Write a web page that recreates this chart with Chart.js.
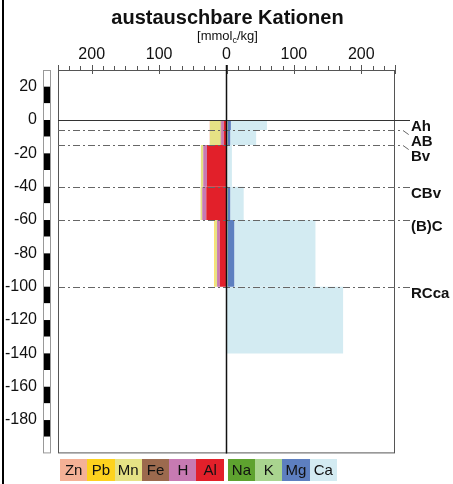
<!DOCTYPE html>
<html>
<head>
<meta charset="utf-8">
<script src="https://cdn.jsdelivr.net/npm/chart.js@4"></script>
<style>
  html, body { margin: 0; padding: 0; background: #fff; }
  #wrap { position: relative; width: 453px; height: 484px; }
  #edge { position: absolute; left: 2px; top: 0; width: 2px; height: 484px; background: #000; }
  #legend { position: absolute; left: 60px; top: 459px; display: flex; font: 15px "Liberation Sans", Arial, sans-serif; }
  #legend span { display: block; width: 27.3px; height: 22px; line-height: 22px; text-align: center; color: #111; }
  #legend .gap { width: 4px; background: none; }
</style>
</head>
<body>
<div id="wrap">
  <canvas id="chart" width="453" height="484"></canvas>
  <div id="edge"></div>
  <div id="legend"></div>
</div>
<script>
// cations, in legend order (left to right)
const cations = ['Zn', 'Pb', 'Mn', 'Fe', 'H', 'Al', 'Na', 'K', 'Mg', 'Ca'];
const cationColors = ['#f4b196', '#fdd21e', '#e6e285', '#9c6a4e', '#c77ab2', '#e2202a', '#5ea22f', '#a9d48f', '#5d7fc0', '#d3ebf2'];
// stacking order away from zero
const acidSide = ['Al', 'H', 'Fe', 'Mn', 'Pb', 'Zn'];  // drawn to the left
const baseSide = ['Na', 'K', 'Mg', 'Ca'];              // drawn to the right

// horizons and depths (cm)
const horizons = ['Ah', 'AB', 'Bv', 'CBv', '(B)C', 'RCca'];
const horizonTop = [0, -6, -15, -40, -60, -100];
const horizonBottom = [-6, -15, -40, -60, -100, -140];

// exchangeable cations per horizon [mmolc/kg]
const zn = [0.5, 0.5, 0, 0, 0, 0];
const pb = [1, 1, 0, 0, 1, 0];
const mn = [16, 16, 3.5, 2.5, 3, 0];
const fe = [0.5, 0.5, 0, 0, 0, 0];
const h  = [4, 4, 5.5, 6, 4, 0];
const al = [4, 4, 29, 30, 10, 0];
const na = [0.5, 0.5, 0.5, 0.5, 0.5, 0];
const k  = [1, 1, 0.5, 1, 1, 0];
const mg = [5, 4, 1, 4, 10, 0];
const ca = [53.5, 38.5, 6, 20, 120.5, 173];

const xTicks = [-200, -100, 0, 100, 200];
const yTicks = [20, 0, -20, -40, -60, -80, -100, -120, -140, -160, -180];

const values = { Zn: zn, Pb: pb, Mn: mn, Fe: fe, H: h, Al: al, Na: na, K: k, Mg: mg, Ca: ca };
const colorOf = {};
cations.forEach((c, i) => colorOf[c] = cationColors[i]);

// one filled rectangle per cation and horizon
const datasets = [];
horizons.forEach((hz, i) => {
  [[acidSide, -1], [baseSide, 1]].forEach(([side, sign]) => {
    let cum = 0;
    side.forEach(c => {
      const v = values[c][i];
      if (v <= 0) return;
      const x0 = sign * cum, x1 = sign * (cum + v);
      datasets.push({
        label: c,
        data: [
          { x: x0, y: horizonTop[i] }, { x: x1, y: horizonTop[i] },
          { x: x1, y: horizonBottom[i] }, { x: x0, y: horizonBottom[i] }
        ],
        showLine: true,
        fill: 'shape',
        backgroundColor: colorOf[c],
        borderWidth: 0,
        pointRadius: 0
      });
      cum += v;
    });
  });
});

const FONT = '"Liberation Sans", Arial, sans-serif';

const decor = {
  id: 'decor',
  beforeDatasetsDraw(chart) {
    const { ctx, chartArea: a, scales: { y } } = chart;
    // depth ruler
    const rx = a.left - 15, rw = 7;
    ctx.save();
    for (let v = 30; v > -200; v -= 10) {
      const lo = v - 10;
      const y0 = y.getPixelForValue(v), y1 = y.getPixelForValue(lo);
      ctx.fillStyle = Math.abs(lo / 10) % 2 === 1 ? '#000' : '#fff';
      ctx.fillRect(rx, y0, rw, y1 - y0);
    }
    ctx.strokeStyle = '#999';
    ctx.lineWidth = 1;
    ctx.strokeRect(rx + 0.5, y.getPixelForValue(30) + 0.5, rw, y.getPixelForValue(-200) - y.getPixelForValue(30) - 1);
    ctx.restore();
  },
  afterDatasetsDraw(chart) {
    const { ctx, chartArea: a, scales: { x, y } } = chart;
    ctx.save();
    // frame
    ctx.strokeStyle = '#555';
    ctx.lineWidth = 1;
    ctx.strokeRect(a.left + 0.5, a.top + 0.5, a.right - a.left - 1, a.bottom - a.top - 1);
    // top axis ticks
    ctx.beginPath();
    for (let j = 0; j <= 30; j++) {
      const v = -250 + j * 500 / 30;
      const px = Math.round(x.getPixelForValue(v)) + 0.5;
      const major = Math.abs(Math.round(v)) % 100 === 0 || Math.abs(v) >= 249.9;
      ctx.moveTo(px, a.top - (major ? 5 : 4));
      ctx.lineTo(px, a.top + (major ? 4 : 0));
    }
    ctx.stroke();
    // horizon boundaries and labels
    const right = a.right;
    let prev = -Infinity;
    ctx.font = 'bold 15px ' + FONT;
    ctx.textBaseline = 'middle';
    horizons.forEach((hz, i) => {
      const ly = Math.round(y.getPixelForValue(horizonTop[i])) + 0.5;
      const labelY = Math.max(ly + 6, prev + 15);
      prev = labelY;
      ctx.strokeStyle = i === 0 ? '#333' : '#666';
      ctx.setLineDash(i === 0 ? [] : [7, 3, 2, 3]);
      ctx.beginPath();
      ctx.moveTo(a.left, ly);
      ctx.lineTo(right + 8, ly);
      ctx.lineTo(right + 15, labelY - 6);
      ctx.stroke();
      ctx.setLineDash([]);
      ctx.fillStyle = '#111';
      ctx.fillText(hz, right + 16, labelY);
    });
    // zero line
    const zx = x.getPixelForValue(0);
    ctx.strokeStyle = '#111';
    ctx.lineWidth = 1.5;
    ctx.beginPath();
    ctx.moveTo(zx, a.top - 5);
    ctx.lineTo(zx, a.bottom);
    ctx.stroke();
    ctx.restore();
  },
  afterDraw(chart) {
    const { ctx, chartArea: a } = chart;
    const cx = (a.left + a.right) / 2 + 1;
    ctx.save();
    ctx.fillStyle = '#111';
    ctx.textBaseline = 'middle';
    ctx.textAlign = 'center';
    ctx.font = 'bold 20px ' + FONT;
    ctx.fillText('austauschbare Kationen', cx, 18);
    // unit with subscript c
    ctx.textAlign = 'left';
    const p1 = '[mmol', p2 = '/kg]';
    ctx.font = '13px ' + FONT;
    const w1 = ctx.measureText(p1).width, w2 = ctx.measureText(p2).width;
    ctx.font = '9px ' + FONT;
    const ws = ctx.measureText('c').width;
    let sx = cx - (w1 + ws + w2) / 2;
    ctx.font = '13px ' + FONT;
    ctx.fillText(p1, sx, 36);
    ctx.font = '9px ' + FONT;
    ctx.fillText('c', sx + w1, 41);
    ctx.font = '13px ' + FONT;
    ctx.fillText(p2, sx + w1 + ws, 36);
    ctx.restore();
  }
};

new Chart(document.getElementById('chart'), {
  type: 'scatter',
  data: { datasets },
  options: {
    responsive: false,
    devicePixelRatio: 1,
    animation: false,
    layout: { padding: { left: 0, top: 0, right: 58, bottom: 29 } },
    plugins: { legend: { display: false }, tooltip: { enabled: false } },
    scales: {
      x: {
        type: 'linear', position: 'top', min: -250, max: 250,
        afterBuildTicks: s => { s.ticks = xTicks.map(v => ({ value: v })); },
        afterFit: s => { s.height = 70; },
        ticks: { callback: v => Math.abs(v), font: { family: FONT, size: 16 }, color: '#111', padding: 6, maxRotation: 0, autoSkip: false },
        grid: { display: false, drawTicks: false },
        border: { display: false }
      },
      y: {
        type: 'linear', min: -200, max: 30,
        afterBuildTicks: s => { s.ticks = yTicks.map(v => ({ value: v })); },
        afterFit: s => { s.width = 58; },
        ticks: { font: { family: FONT, size: 16 }, color: '#111', padding: 21, autoSkip: false },
        grid: { display: false, drawTicks: false },
        border: { display: false }
      }
    }
  },
  plugins: [decor]
});

// legend
const legend = document.getElementById('legend');
cations.forEach((c, i) => {
  if (c === 'Na') {
    const g = document.createElement('span');
    g.className = 'gap';
    legend.appendChild(g);
  }
  const s = document.createElement('span');
  s.textContent = c;
  s.style.background = cationColors[i];
  legend.appendChild(s);
});
</script>
</body>
</html>
